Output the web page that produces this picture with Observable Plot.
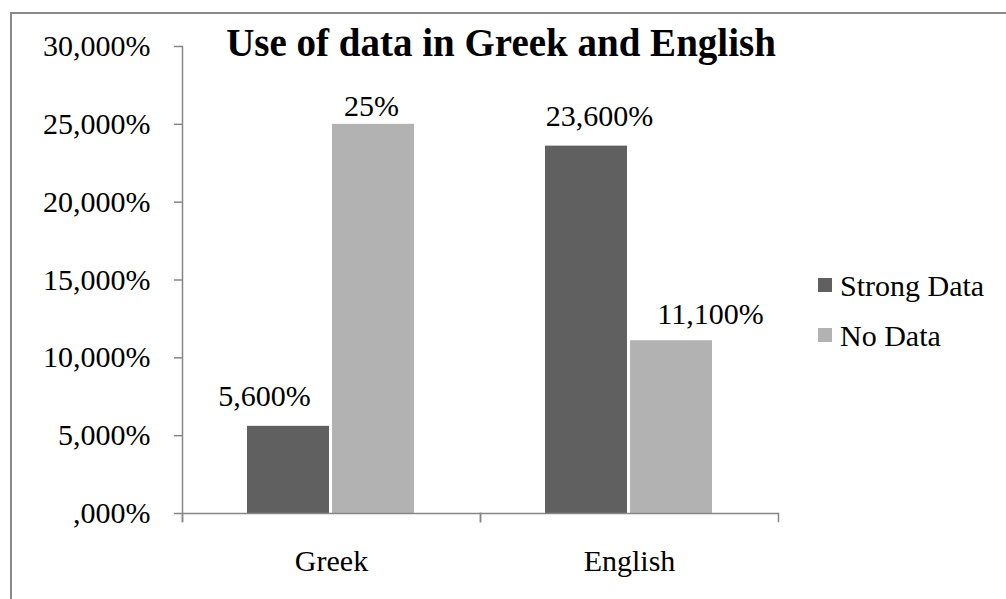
<!DOCTYPE html>
<html>
<head>
<meta charset="utf-8">
<script src="https://cdn.jsdelivr.net/npm/d3@7"></script>
<script src="https://cdn.jsdelivr.net/npm/@observablehq/plot@0.6"></script>
<style>
  html, body { margin: 0; padding: 0; background: #fff; overflow: hidden; }
  #chart { position: relative; width: 1006px; height: 599px; font-family: "Liberation Serif", "Times New Roman", serif; color: #000; }
  #chart svg { position: absolute; left: 0; top: 0; z-index: 1; }
  #border { position: absolute; left: 10px; top: 12px; width: 996px; height: 587px; border-top: 2px solid #8a8a8a; border-left: 2px solid #8a8a8a; box-sizing: border-box; z-index: 0; }
  #title { position: absolute; left: 0; top: 20px; width: 1002px; text-align: center; font-weight: bold; font-size: 39px; line-height: normal; white-space: nowrap; z-index: 2; }
  .key { position: absolute; left: 818px; height: 40px; width: 180px; z-index: 2; }
  .key .sw { position: absolute; left: 0; top: 10px; width: 14px; height: 14px; }
  .key .lb { position: absolute; left: 22px; top: 1px; font-size: 30px; line-height: normal; white-space: nowrap; }
</style>
</head>
<body>
<div id="chart">
  <div id="border"></div>
  <div id="title">Use of data in Greek and English</div>
</div>
<script>
// Data
const languages = ["Greek", "English"];
const series = ["Strong Data", "No Data"];
const strongData = [5.6, 23.6];
const noData = [25, 11.1];
const valueLabels = [["5,600%", "23,600%"], ["25%", "11,100%"]];
const yTicks = [0, 5, 10, 15, 20, 25, 30];
const colors = ["#606060", "#b2b2b2"];

// Long table for the grouped bars
const seriesValues = [strongData, noData];
const rows = [];
series.forEach((s, si) => {
  languages.forEach((lang, li) => {
    rows.push({lang, series: s, value: seriesValues[si][li], label: valueLabels[si][li]});
  });
});

// Tick labels with a comma decimal separator and no leading zero
const pct = d => d3.format(".3f")(d).replace(".", ",").replace(/^0,/, ",") + "%";

// Per-label nudges so the value labels clear neighbouring bars
const nudge = {
  "Greek|Strong Data": {dx: -24, dy: -20},
  "Greek|No Data": {dx: -2, dy: -8},
  "English|Strong Data": {dx: 13, dy: -20},
  "English|No Data": {dx: 39, dy: -17}
};

const axisGray = "#868686";
const innerHeight = 599 - 46 - 86;

const plot = Plot.plot({
  width: 1006,
  height: 599,
  marginLeft: 182,
  marginRight: 228,
  marginTop: 46,
  marginBottom: 86,
  style: {fontFamily: '"Liberation Serif", "Times New Roman", serif', fontSize: "30px", color: "#000", background: "transparent"},
  fx: {domain: languages, padding: 0, axis: null},
  x: {domain: series, paddingInner: 0.035, paddingOuter: 0.77, axis: null},
  y: {domain: [0, 30], axis: null},
  color: {domain: series, range: colors},
  marks: [
    Plot.axisY({ticks: yTicks, tickFormat: pct, tickSize: 8, tickPadding: 24, stroke: axisGray, strokeWidth: 1.5, fill: "#000", fontSize: 30, label: null}),
    Plot.axisFx({anchor: "bottom", tickSize: 0, tickPadding: 36, fill: "#000", fontSize: 30, label: null}),
    Plot.barY(rows, {fx: "lang", x: "series", y: "value", fill: "series", style: {filter: "drop-shadow(0px 1px 2px rgba(0,0,0,0.4))"}}),
    Plot.ruleY([0], {stroke: axisGray, strokeWidth: 1.5}),
    // vertical axis line
    Plot.frame({anchor: "left", facetAnchor: "left", stroke: axisGray, strokeWidth: 1.5, insetBottom: -8}),
    // category boundary ticks below the baseline
    Plot.frame({anchor: "left", stroke: axisGray, strokeWidth: 1.5, insetTop: innerHeight, insetBottom: -8}),
    Plot.frame({anchor: "right", stroke: axisGray, strokeWidth: 1.5, insetTop: innerHeight, insetBottom: -8}),
    ...rows.map(r => Plot.text([r], {
      fx: "lang", x: "series", y: "value", text: "label",
      lineAnchor: "bottom", fontSize: 30, fill: "#000",
      dx: nudge[r.lang + "|" + r.series].dx,
      dy: nudge[r.lang + "|" + r.series].dy
    }))
  ]
});

const chart = document.getElementById("chart");
chart.appendChild(plot);

// Legend
const legendTops = [268, 318];
series.forEach((s, i) => {
  const item = document.createElement("div");
  item.className = "key";
  item.style.top = legendTops[i] + "px";
  const sw = document.createElement("div");
  sw.className = "sw";
  sw.style.background = colors[i];
  const lb = document.createElement("div");
  lb.className = "lb";
  lb.textContent = s;
  item.appendChild(sw);
  item.appendChild(lb);
  chart.appendChild(item);
});
</script>
</body>
</html>
